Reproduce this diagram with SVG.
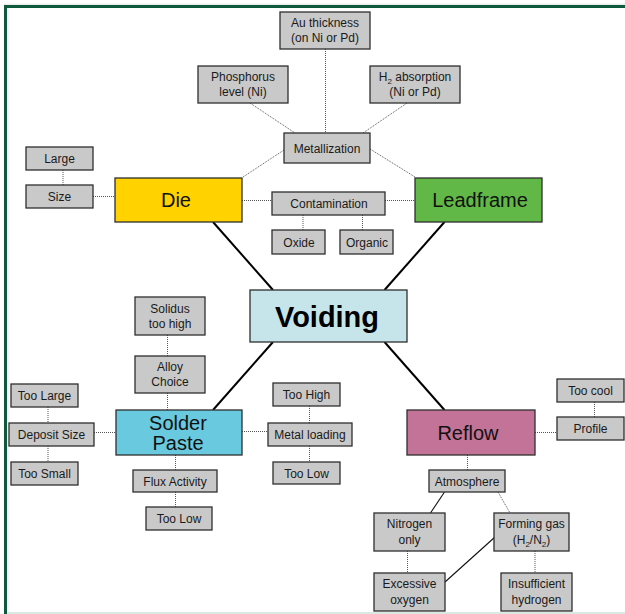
<svg xmlns="http://www.w3.org/2000/svg" width="625" height="614" viewBox="0 0 625 614">
<style>
  .box { fill: #c9c9c9; stroke: #2e2e2e; stroke-width: 1.3; }
  .big { stroke: #2e2e2e; stroke-width: 1.3; }
  .t { font-family: "Liberation Sans", Arial, sans-serif; font-size: 12px; fill: #1a1a1a; text-anchor: middle; }
  .tb { font-family: "Liberation Sans", Arial, sans-serif; font-size: 20px; fill: #111; text-anchor: middle; }
  .dot { stroke: #555; stroke-width: 1; stroke-dasharray: 1 1; fill: none; }
  .thick { stroke: #000; stroke-width: 2; fill: none; }
  .thin { stroke: #111; stroke-width: 1.1; fill: none; }
  .sub { font-size: 8px; }
</style>
<rect x="0" y="0" width="625" height="614" fill="#ffffff"/>
<g id="frame">
  <line x1="4" y1="4.2" x2="625" y2="4.2" stroke="#dfe7e3" stroke-width="1"/>
  <line x1="4" y1="6.5" x2="625" y2="6.5" stroke="#0d5a3c" stroke-width="3"/>
  <line x1="5.5" y1="5" x2="5.5" y2="614" stroke="#0d5a3c" stroke-width="3"/>
  <line x1="7" y1="613" x2="625" y2="613" stroke="#dce8e4" stroke-width="2"/>
</g>
<g id="connectors">
  <line class="dot" x1="325.5" y1="49" x2="325.5" y2="133"/>
  <line class="dot" x1="250" y1="103" x2="295" y2="133"/>
  <line class="dot" x1="407" y1="103" x2="363" y2="133"/>
  <line class="dot" x1="284" y1="150" x2="243" y2="177"/>
  <line class="dot" x1="370" y1="149" x2="415" y2="177"/>
  <line class="dot" x1="63" y1="170" x2="63" y2="185"/>
  <line class="dot" x1="93" y1="196.5" x2="115" y2="196.5"/>
  <line class="dot" x1="242" y1="200.5" x2="272" y2="200.5"/>
  <line class="dot" x1="385" y1="200.5" x2="415" y2="200.5"/>
  <line class="dot" x1="303" y1="215" x2="303" y2="230"/>
  <line class="dot" x1="362.5" y1="215" x2="362.5" y2="230"/>
  <line class="thick" x1="213" y1="222" x2="273" y2="290"/>
  <line class="thick" x1="444.5" y1="222" x2="384.5" y2="290"/>
  <line class="thick" x1="273" y1="342" x2="213" y2="410"/>
  <line class="thick" x1="384.5" y1="342" x2="444.5" y2="410"/>
  <line class="dot" x1="167.5" y1="335" x2="167.5" y2="356"/>
  <line class="dot" x1="167.5" y1="393" x2="167.5" y2="410"/>
  <line class="dot" x1="48" y1="407" x2="48" y2="423"/>
  <line class="dot" x1="48" y1="446" x2="48" y2="462"/>
  <line class="dot" x1="94" y1="432.5" x2="116" y2="432.5"/>
  <line class="dot" x1="242" y1="431.5" x2="268" y2="431.5"/>
  <line class="dot" x1="309.5" y1="406" x2="309.5" y2="423"/>
  <line class="dot" x1="309.5" y1="446" x2="309.5" y2="462"/>
  <line class="dot" x1="175.5" y1="455" x2="175.5" y2="470"/>
  <line class="dot" x1="175.5" y1="492" x2="175.5" y2="507"/>
  <line class="dot" x1="594.5" y1="402" x2="594.5" y2="417"/>
  <line class="dot" x1="535" y1="432.5" x2="557" y2="432.5"/>
  <line class="dot" x1="467.5" y1="455" x2="467.5" y2="470"/>
  <line class="thin" x1="444.5" y1="492" x2="430.5" y2="513"/>
  <line class="dot" x1="498" y1="492" x2="510" y2="513"/>
  <line class="dot" x1="407.5" y1="551" x2="407.5" y2="573"/>
  <line class="dot" x1="535" y1="551" x2="535" y2="573"/>
  <line class="thin" x1="495" y1="537" x2="445" y2="582"/>
</g>
<g id="au-thickness">
  <rect class="box" x="280" y="12" width="90" height="37"/>
  <text class="t" x="325" y="26.5">Au thickness</text>
  <text class="t" x="325" y="41.5">(on Ni or Pd)</text>
</g>
<g id="phosphorus">
  <rect class="box" x="198" y="66" width="90" height="37"/>
  <text class="t" x="243" y="80.5">Phosphorus</text>
  <text class="t" x="243" y="95.5">level (Ni)</text>
</g>
<g id="h2-absorption">
  <rect class="box" x="370" y="66" width="90" height="37"/>
  <text class="t" x="415" y="80.5">H<tspan class="sub" dy="3">2</tspan><tspan dy="-3"> absorption</tspan></text>
  <text class="t" x="415" y="95.5">(Ni or Pd)</text>
</g>
<g id="metallization">
  <rect class="box" x="284" y="133" width="86" height="30"/>
  <text class="t" x="327" y="152.5">Metallization</text>
</g>
<g id="large">
  <rect class="box" x="26" y="147" width="67" height="23"/>
  <text class="t" x="59.5" y="162.5">Large</text>
</g>
<g id="size">
  <rect class="box" x="26" y="185" width="67" height="23"/>
  <text class="t" x="59.5" y="200.5">Size</text>
</g>
<g id="die">
  <rect class="big" x="115" y="178" width="127" height="44" fill="#ffd200"/>
  <text class="tb" x="176" y="207">Die</text>
</g>
<g id="contamination">
  <rect class="box" x="272" y="192" width="113" height="23"/>
  <text class="t" x="329" y="208">Contamination</text>
</g>
<g id="leadframe">
  <rect class="big" x="415" y="178" width="127" height="44" fill="#62b846"/>
  <text class="tb" x="480" y="207">Leadframe</text>
</g>
<g id="oxide">
  <rect class="box" x="272" y="230" width="53" height="24"/>
  <text class="t" x="299" y="246.5">Oxide</text>
</g>
<g id="organic">
  <rect class="box" x="340" y="230" width="53" height="24"/>
  <text class="t" x="367" y="246.5">Organic</text>
</g>
<g id="voiding">
  <rect class="big" x="250" y="290" width="157" height="52" fill="#c6e5ea"/>
  <text x="327" y="327" text-anchor="middle" font-family="'Liberation Sans', Arial, sans-serif" font-weight="bold" font-size="30" fill="#000" textLength="104" lengthAdjust="spacingAndGlyphs">Voiding</text>
</g>
<g id="solidus">
  <rect class="box" x="135" y="297" width="70" height="38"/>
  <text class="t" x="170" y="312.5">Solidus</text>
  <text class="t" x="170" y="328">too high</text>
</g>
<g id="alloy-choice">
  <rect class="box" x="135" y="356" width="70" height="37"/>
  <text class="t" x="170" y="370.5">Alloy</text>
  <text class="t" x="170" y="386">Choice</text>
</g>
<g id="too-large">
  <rect class="box" x="11" y="384" width="67" height="23"/>
  <text class="t" x="44.5" y="400">Too Large</text>
</g>
<g id="deposit-size">
  <rect class="box" x="9" y="423" width="85" height="23"/>
  <text class="t" x="51.5" y="439">Deposit Size</text>
</g>
<g id="too-small">
  <rect class="box" x="11" y="462" width="67" height="23"/>
  <text class="t" x="44.5" y="478">Too Small</text>
</g>
<g id="solder-paste">
  <rect class="big" x="116" y="410" width="126" height="45" fill="#69c9de"/>
  <text class="tb" x="178" y="430">Solder</text>
  <text class="tb" x="178" y="450">Paste</text>
</g>
<g id="too-high">
  <rect class="box" x="273" y="383" width="67" height="23"/>
  <text class="t" x="306.5" y="399">Too High</text>
</g>
<g id="metal-loading">
  <rect class="box" x="268" y="423" width="84" height="23"/>
  <text class="t" x="310" y="439">Metal loading</text>
</g>
<g id="too-low-metal">
  <rect class="box" x="273" y="462" width="67" height="22"/>
  <text class="t" x="306.5" y="477.5">Too Low</text>
</g>
<g id="flux-activity">
  <rect class="box" x="133" y="470" width="84" height="22"/>
  <text class="t" x="175" y="485.5">Flux Activity</text>
</g>
<g id="too-low-flux">
  <rect class="box" x="146" y="507" width="66" height="23"/>
  <text class="t" x="179" y="523">Too Low</text>
</g>
<g id="reflow">
  <rect class="big" x="407" y="410" width="128" height="45" fill="#c27397"/>
  <text class="tb" x="468" y="440">Reflow</text>
</g>
<g id="too-cool">
  <rect class="box" x="557" y="379" width="67" height="23"/>
  <text class="t" x="590.5" y="395">Too cool</text>
</g>
<g id="profile">
  <rect class="box" x="557" y="417" width="67" height="23"/>
  <text class="t" x="590.5" y="433">Profile</text>
</g>
<g id="atmosphere">
  <rect class="box" x="429" y="470" width="76" height="22"/>
  <text class="t" x="467" y="485.5">Atmosphere</text>
</g>
<g id="nitrogen-only">
  <rect class="box" x="374" y="513" width="71" height="38"/>
  <text class="t" x="409.5" y="528">Nitrogen</text>
  <text class="t" x="409.5" y="543.5">only</text>
</g>
<g id="forming-gas">
  <rect class="box" x="494" y="513" width="75" height="38"/>
  <text class="t" x="531.5" y="528">Forming gas</text>
  <text class="t" x="531.5" y="543.5">(H<tspan class="sub" dy="3">2</tspan><tspan dy="-3">/N</tspan><tspan class="sub" dy="3">2</tspan><tspan dy="-3">)</tspan></text>
</g>
<g id="excessive-oxygen">
  <rect class="box" x="374" y="573" width="71" height="38"/>
  <text class="t" x="409.5" y="588">Excessive</text>
  <text class="t" x="409.5" y="603.5">oxygen</text>
</g>
<g id="insufficient-hydrogen">
  <rect class="box" x="501" y="573" width="71" height="38"/>
  <text class="t" x="536.5" y="588">Insufficient</text>
  <text class="t" x="536.5" y="603.5">hydrogen</text>
</g>
</svg>
